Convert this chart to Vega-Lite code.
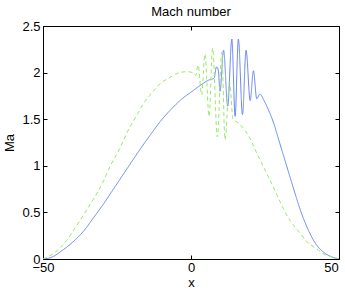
{
  "$schema": "https://vega.github.io/schema/vega-lite/v6.json",
  "autosize": {"type": "none"},
  "padding": {"left": 43, "top": 26, "right": 6, "bottom": 32},
  "width": 296,
  "height": 233,
  "background": "white",
  "config": {
    "font": "Liberation Sans",
    "view": {"stroke": "black", "strokeWidth": 1},
    "axis": {"grid": false, "domain": false, "tickColor": "black", "tickSize": -4, "labelColor": "black", "labelFontSize": 13, "titleFontSize": 13, "titleFontWeight": "normal", "titleColor": "black", "labelFont": "Liberation Sans", "titleFont": "Liberation Sans", "format": "~g"},
    "title": {"fontSize": 13, "fontWeight": "normal", "font": "Liberation Sans", "color": "black", "offset": 1}
  },
  "title": {"text": "Mach number"},
  "data": {"values": [
    {"x": -50, "Ma": 0, "s": "blue"},
    {"x": -47, "Ma": 0.02, "s": "blue"},
    {"x": -44, "Ma": 0.08, "s": "blue"},
    {"x": -40, "Ma": 0.18, "s": "blue"},
    {"x": -36, "Ma": 0.31, "s": "blue"},
    {"x": -33, "Ma": 0.44, "s": "blue"},
    {"x": -30, "Ma": 0.57, "s": "blue"},
    {"x": -26, "Ma": 0.76, "s": "blue"},
    {"x": -22, "Ma": 0.95, "s": "blue"},
    {"x": -18, "Ma": 1.14, "s": "blue"},
    {"x": -14, "Ma": 1.32, "s": "blue"},
    {"x": -10, "Ma": 1.49, "s": "blue"},
    {"x": -6, "Ma": 1.63, "s": "blue"},
    {"x": -3, "Ma": 1.72, "s": "blue"},
    {"x": 0, "Ma": 1.79, "s": "blue"},
    {"x": 3, "Ma": 1.86, "s": "blue"},
    {"x": 6, "Ma": 1.92, "s": "blue"},
    {"x": 7.8, "Ma": 1.94, "s": "blue"},
    {"x": 8.6, "Ma": 2.06, "s": "blue"},
    {"x": 9.2, "Ma": 2.03, "s": "blue"},
    {"x": 9.8, "Ma": 1.8, "s": "blue"},
    {"x": 11.0, "Ma": 2.24, "s": "blue"},
    {"x": 12.4, "Ma": 1.64, "s": "blue"},
    {"x": 13.8, "Ma": 2.36, "s": "blue"},
    {"x": 14.9, "Ma": 1.53, "s": "blue"},
    {"x": 16.0, "Ma": 2.36, "s": "blue"},
    {"x": 17.4, "Ma": 1.55, "s": "blue"},
    {"x": 18.6, "Ma": 2.24, "s": "blue"},
    {"x": 20.0, "Ma": 1.7, "s": "blue"},
    {"x": 21.1, "Ma": 2.02, "s": "blue"},
    {"x": 22.2, "Ma": 1.72, "s": "blue"},
    {"x": 23.3, "Ma": 1.77, "s": "blue"},
    {"x": 24.5, "Ma": 1.71, "s": "blue"},
    {"x": 25.6, "Ma": 1.64, "s": "blue"},
    {"x": 27.8, "Ma": 1.47, "s": "blue"},
    {"x": 30, "Ma": 1.24, "s": "blue"},
    {"x": 32.3, "Ma": 1.0, "s": "blue"},
    {"x": 34.6, "Ma": 0.76, "s": "blue"},
    {"x": 37, "Ma": 0.52, "s": "blue"},
    {"x": 39.5, "Ma": 0.32, "s": "blue"},
    {"x": 42, "Ma": 0.17, "s": "blue"},
    {"x": 44.5, "Ma": 0.08, "s": "blue"},
    {"x": 47, "Ma": 0.03, "s": "blue"},
    {"x": 50, "Ma": 0, "s": "blue"},
    {"x": -50, "Ma": 0, "s": "green"},
    {"x": -46, "Ma": 0.07, "s": "green"},
    {"x": -42, "Ma": 0.2, "s": "green"},
    {"x": -38.6, "Ma": 0.36, "s": "green"},
    {"x": -35, "Ma": 0.54, "s": "green"},
    {"x": -33, "Ma": 0.64, "s": "green"},
    {"x": -30, "Ma": 0.81, "s": "green"},
    {"x": -27.4, "Ma": 0.99, "s": "green"},
    {"x": -24, "Ma": 1.19, "s": "green"},
    {"x": -21.7, "Ma": 1.35, "s": "green"},
    {"x": -18, "Ma": 1.56, "s": "green"},
    {"x": -16, "Ma": 1.67, "s": "green"},
    {"x": -13, "Ma": 1.79, "s": "green"},
    {"x": -10.5, "Ma": 1.88, "s": "green"},
    {"x": -7, "Ma": 1.95, "s": "green"},
    {"x": -4.8, "Ma": 1.99, "s": "green"},
    {"x": -1.5, "Ma": 2.01, "s": "green"},
    {"x": 0.5, "Ma": 2.0, "s": "green"},
    {"x": 1.6, "Ma": 1.97, "s": "green"},
    {"x": 2.4, "Ma": 2.08, "s": "green"},
    {"x": 3.6, "Ma": 1.76, "s": "green"},
    {"x": 4.7, "Ma": 2.2, "s": "green"},
    {"x": 6.1, "Ma": 1.53, "s": "green"},
    {"x": 7.3, "Ma": 2.26, "s": "green"},
    {"x": 8.9, "Ma": 1.31, "s": "green"},
    {"x": 10.4, "Ma": 2.22, "s": "green"},
    {"x": 11.5, "Ma": 1.28, "s": "green"},
    {"x": 13.0, "Ma": 1.9, "s": "green"},
    {"x": 14.2, "Ma": 1.5, "s": "green"},
    {"x": 16, "Ma": 1.46, "s": "green"},
    {"x": 18, "Ma": 1.39, "s": "green"},
    {"x": 20, "Ma": 1.29, "s": "green"},
    {"x": 22, "Ma": 1.15, "s": "green"},
    {"x": 24, "Ma": 1.02, "s": "green"},
    {"x": 26, "Ma": 0.89, "s": "green"},
    {"x": 28, "Ma": 0.76, "s": "green"},
    {"x": 30, "Ma": 0.62, "s": "green"},
    {"x": 32, "Ma": 0.49, "s": "green"},
    {"x": 34, "Ma": 0.39, "s": "green"},
    {"x": 36.8, "Ma": 0.28, "s": "green"},
    {"x": 39, "Ma": 0.19, "s": "green"},
    {"x": 42.5, "Ma": 0.11, "s": "green"},
    {"x": 45, "Ma": 0.05, "s": "green"},
    {"x": 48, "Ma": 0.02, "s": "green"},
    {"x": 50, "Ma": 0, "s": "green"}
  ]},
  "layer": [
    {
      "mark": {"type": "line", "interpolate": "monotone", "strokeWidth": 1, "clip": true},
      "encoding": {
        "x": {"field": "x", "type": "quantitative", "scale": {"domain": [-50, 50], "nice": false, "zero": false}, "axis": {"orient": "bottom", "values": [-50, 0, 50], "title": "x", "labelPadding": 6, "labelOffset": {"condition": {"test": "datum.value == 50", "value": -8}, "value": 0}, "titleBaseline": "alphabetic", "titleY": 27, "labelFlush": false}},
        "y": {"field": "Ma", "type": "quantitative", "scale": {"domain": [0, 2.5], "nice": false}, "axis": {"orient": "left", "values": [0, 0.5, 1, 1.5, 2, 2.5], "title": "Ma", "labelPadding": 7, "titleX": -27, "labelFlush": false}},
        "color": {"field": "s", "type": "nominal", "scale": {"domain": ["blue", "green"], "range": ["#6b86f2", "#9be86a"]}, "legend": null},
        "strokeDash": {"field": "s", "type": "nominal", "scale": {"domain": ["blue", "green"], "range": [[1, 0], [4, 3]]}, "legend": null}
      }
    },
    {
      "mark": {"type": "rule", "opacity": 0},
      "data": {"values": [{"x": 0, "Ma": 0}]},
      "encoding": {
        "x": {"field": "x", "type": "quantitative", "axis": {"orient": "top", "values": [-50, 0, 50], "labels": false, "title": null}},
        "y": {"field": "Ma", "type": "quantitative", "axis": {"orient": "right", "values": [0, 0.5, 1, 1.5, 2, 2.5], "labels": false, "title": null}}
      }
    }
  ],
  "resolve": {"axis": {"x": "independent", "y": "independent"}}
}
